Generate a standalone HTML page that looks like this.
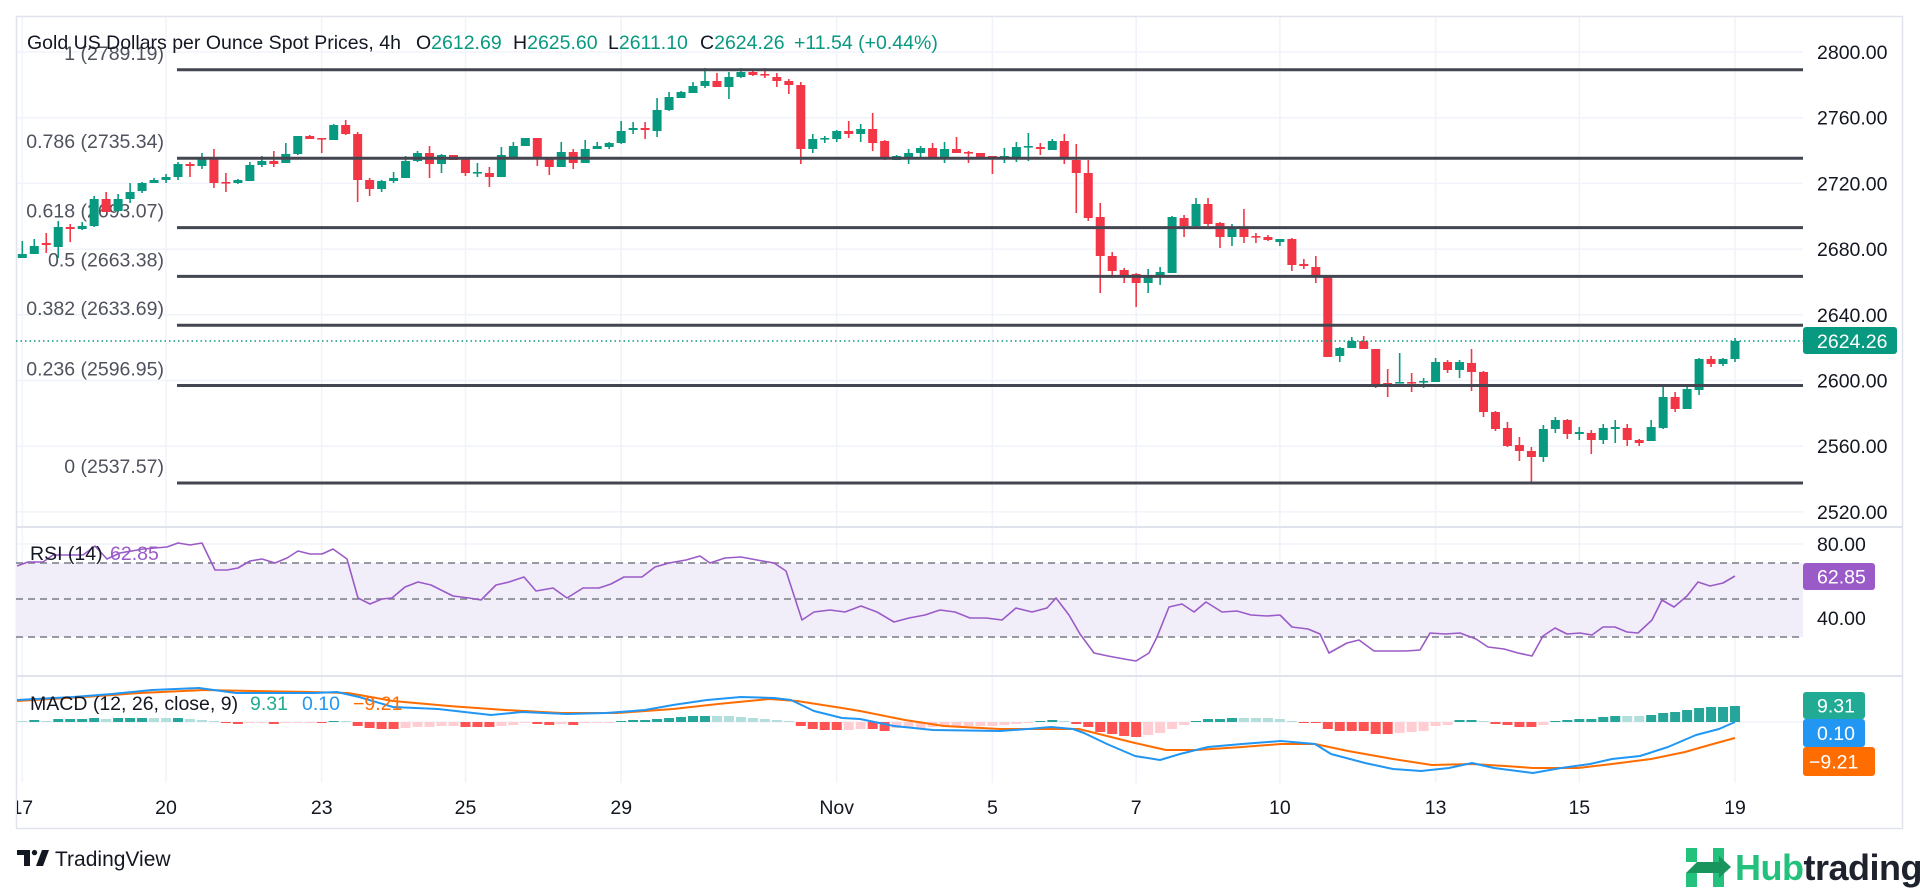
<!DOCTYPE html>
<html><head><meta charset="utf-8"><style>
html,body{margin:0;padding:0;background:#fff;width:1920px;height:888px;overflow:hidden}
svg text{font-family:"Liberation Sans",Arial,sans-serif}
</style></head><body>
<svg id="s" xmlns="http://www.w3.org/2000/svg" width="1920" height="888" viewBox="0 0 1920 888">
<defs>
<clipPath id="cp"><rect x="16" y="16" width="1787" height="767"/></clipPath>
<clipPath id="ta"><rect x="17" y="783" width="1886" height="46"/></clipPath>
</defs>
<rect x="0" y="0" width="1920" height="888" fill="#fff"/>
<g id="grid" stroke="#f0f3fa" stroke-width="1.5"></g>
<rect x="16.5" y="16.5" width="1886" height="812" fill="none" stroke="#e0e3eb" stroke-width="1.5"/>
<line x1="16" y1="527" x2="1903" y2="527" stroke="#e0e3eb" stroke-width="2"/>
<line x1="16" y1="676" x2="1903" y2="676" stroke="#e0e3eb" stroke-width="2"/>

<!-- fib labels -->
<g font-size="19.5" fill="#50535e" text-anchor="end">
<text x="164" y="60">1 (2789.19)</text>
<text x="164" y="148">0.786 (2735.34)</text>
<text x="164" y="217.6">0.618 (2693.07)</text>
<text x="164" y="266.4">0.5 (2663.38)</text>
<text x="164" y="315.2">0.382 (2633.69)</text>
<text x="164" y="375.5">0.236 (2596.95)</text>
<text x="164" y="473">0 (2537.57)</text>
</g>

<!-- RSI band -->
<rect x="16" y="563" width="1787" height="74" fill="#f2eef9"/>
<g stroke="#787b86" stroke-width="1.5" stroke-dasharray="7 5">
<line x1="16" y1="563" x2="1803" y2="563"/>
<line x1="16" y1="599" x2="1803" y2="599"/>
<line x1="16" y1="637" x2="1803" y2="637"/>
</g>

<g id="candles" clip-path="url(#cp)"></g>
<g id="hist" clip-path="url(#cp)"></g>

<!-- fib lines -->
<g stroke="#434651" stroke-width="3">
<line x1="177" y1="69.8" x2="1803" y2="69.8"/>
<line x1="177" y1="158.2" x2="1803" y2="158.2"/>
<line x1="177" y1="227.6" x2="1803" y2="227.6"/>
<line x1="177" y1="276.4" x2="1803" y2="276.4"/>
<line x1="177" y1="325.2" x2="1803" y2="325.2"/>
<line x1="177" y1="385.5" x2="1803" y2="385.5"/>
<line x1="177" y1="483" x2="1803" y2="483"/>
</g>
<line x1="16" y1="341" x2="1803" y2="341" stroke="#089981" stroke-width="1.5" stroke-dasharray="1.5 3"/>

<!-- RSI line -->
<polyline fill="none" stroke="#9a5bc8" stroke-width="1.6" stroke-linejoin="round" points="17,566 28,562 43,562 53,555 67,555 83,555 95,546 107,559 120,553 143,549 167,547 178,543 190,545 202,543 215,570 227,570 238,568 250,561 262,559 275,563 287,558 298,551 310,554 322,554 333,549 347,559 358,598 370,604 382,599 392,598 405,587 418,582 431,585 453,596 469,598 481,600 496,585 509,582 524,577 536,591 553,588 567,598 583,588 599,588 611,584 624,577 642,577 655,567 669,563 686,560 700,556 710,563 725,558 741,557 757,560 774,563 786,571 802,620 814,612 830,610 845,612 861,606 877,612 894,622 909,618 925,615 940,610 955,612 970,618 986,618 1002,620 1016,608 1032,612 1047,608 1056,598 1069,615 1080,634 1094,653 1108,656 1124,659 1136,661 1149,653 1157,637 1169,607 1182,604 1194,612 1206,602 1222,612 1237,611 1251,615 1267,616 1280,615 1292,627 1308,629 1320,634 1329,653 1347,643 1359,640 1374,651 1390,651 1406,651 1420,650 1430,633 1445,634 1460,633 1476,639 1488,647 1504,649 1518,653 1532,656 1543,636 1555,628 1567,634 1580,633 1592,635 1603,627 1615,627 1627,632 1638,633 1652,620 1662,600 1674,607 1687,596 1698,582 1710,586 1723,583 1735,576"/>

<!-- MACD lines -->
<polyline fill="none" stroke="#ff6d00" stroke-width="2" stroke-linejoin="round" points="17,701 84,697 140,693 205,690 253,691 309,692 348,693 393,701 449,706 505,710 561,713 617,713 673,709 718,704 769,699 797,701 842,708 860,711 905,720 944,726 1000,729 1056,729 1079,729 1107,736 1135,743 1166,750 1197,750 1242,747 1281,744 1315,744 1348,751 1393,759 1432,765 1472,764 1505,766 1533,768 1578,768 1612,764 1651,759 1685,752 1713,744 1735,738"/>
<polyline fill="none" stroke="#2196f3" stroke-width="2" stroke-linejoin="round" points="17,700 73,697 112,694 152,690 199,688 236,693 281,693 314,693 337,692 359,697 393,707 438,709 491,715 522,712 567,714 606,713 645,710 673,705 707,700 741,697 774,698 791,700 814,711 842,718 860,719 894,726 933,730 1000,731 1028,729 1051,727 1073,729 1084,733 1107,744 1135,756 1160,760 1180,754 1208,747 1242,744 1281,741 1315,744 1331,754 1365,763 1393,769 1421,771 1449,768 1472,763 1494,768 1533,773 1561,768 1590,764 1612,759 1640,756 1668,747 1696,735 1719,729 1735,722"/>

<!-- Title -->
<g font-size="19.5">
<text x="27" y="49" fill="#131722">Gold US Dollars per Ounce Spot Prices, 4h</text>
<text x="416" y="49" fill="#131722">O<tspan fill="#089981">2612.69</tspan></text>
<text x="513" y="49" fill="#131722">H<tspan fill="#089981">2625.60</tspan></text>
<text x="608" y="49" fill="#131722">L<tspan fill="#089981">2611.10</tspan></text>
<text x="700" y="49" fill="#131722">C<tspan fill="#089981">2624.26</tspan></text>
<text x="794" y="49" fill="#089981">+11.54 (+0.44%)</text>
</g>

<!-- price axis -->
<g font-size="19.5" fill="#131722">
<text x="1817" y="59">2800.00</text>
<text x="1817" y="124.7">2760.00</text>
<text x="1817" y="190.4">2720.00</text>
<text x="1817" y="256.1">2680.00</text>
<text x="1817" y="321.8">2640.00</text>
<text x="1817" y="387.5">2600.00</text>
<text x="1817" y="453.2">2560.00</text>
<text x="1817" y="518.9">2520.00</text>
<text x="1817" y="551">80.00</text>
<text x="1817" y="625">40.00</text>
</g>
<rect x="1803" y="327" width="94" height="27" rx="3" fill="#089981"/>
<text x="1817" y="348" font-size="19.5" fill="#fff">2624.26</text>
<rect x="1803" y="563" width="72" height="27" rx="3" fill="#9a5bc8"/>
<text x="1817" y="583.5" font-size="19.5" fill="#fff">62.85</text>
<rect x="1803" y="692" width="62" height="27" rx="3" fill="#22ab94"/>
<text x="1817" y="712.5" font-size="19.5" fill="#fff">9.31</text>
<rect x="1803" y="719" width="62" height="28" rx="3" fill="#2196f3"/>
<text x="1817" y="740" font-size="19.5" fill="#fff">0.10</text>
<rect x="1803" y="747" width="72" height="29" rx="3" fill="#ff6d00"/>
<text x="1809" y="768.5" font-size="19.5" fill="#fff">−9.21</text>

<!-- legends -->
<g font-size="19.5">
<text x="30" y="560" fill="#131722">RSI (14)</text>
<text x="110" y="560" fill="#9a5bc8">62.85</text>
<text x="30" y="710" fill="#131722">MACD (12, 26, close, 9)</text>
<text x="250" y="710" fill="#22ab94">9.31</text>
<text x="302" y="710" fill="#2196f3">0.10</text>
<text x="353" y="710" fill="#ff6d00">−9.21</text>
</g>

<!-- time axis -->
<g font-size="19.5" fill="#131722" text-anchor="middle" clip-path="url(#ta)">
<text x="22.3" y="814">17</text>
<text x="166" y="814">20</text>
<text x="321.7" y="814">23</text>
<text x="465.5" y="814">25</text>
<text x="621.2" y="814">29</text>
<text x="836.7" y="814">Nov</text>
<text x="992.4" y="814">5</text>
<text x="1136.2" y="814">7</text>
<text x="1279.9" y="814">10</text>
<text x="1435.6" y="814">13</text>
<text x="1579.3" y="814">15</text>
<text x="1735" y="814">19</text>
</g>

<!-- TradingView logo -->
<g fill="#131722">
<path d="M17 850h13v16h-6v-11h-7z"/>
<circle cx="34.5" cy="852.6" r="2.7"/>
<path d="M36 866 L42 850 H49 L43 866 Z"/>
<text x="55" y="866" font-size="21">TradingView</text>
</g>

<!-- Hubtrading logo -->
<g>
<rect x="1686" y="848" width="11" height="14" fill="#22c17c"/>
<rect x="1686" y="873" width="11" height="14" fill="#22c17c"/>
<rect x="1713" y="848" width="11" height="39" fill="#22c17c"/>
<polygon points="1686,873 1697,862 1719,862 1719,856 1731,867 1719,878 1719,873" fill="#17955c"/>
<text x="1735" y="880" font-size="36" font-weight="bold" fill="#22c17c" letter-spacing="-0.5">Hub<tspan fill="#1e222d">trading</tspan></text>
</g>
</svg>
<script>
(function(){
var NS="http://www.w3.org/2000/svg";
function el(p,n,a){var e=document.createElementNS(NS,n);for(var k in a)e.setAttribute(k,a[k]);p.appendChild(e);return e;}
var grid=document.getElementById("grid");
var hy=[52,117.7,183.4,249.1,314.8,380.5,446.2,511.9,544,618,722];
hy.forEach(function(y){el(grid,"line",{x1:16,y1:y,x2:1803,y2:y});});
var vx=[22.3,166,321.7,465.5,621.2,836.7,992.4,1136.2,1279.9,1435.6,1579.3,1735];
vx.forEach(function(x){el(grid,"line",{x1:x,y1:17,x2:x,y2:783});});
var X0=22.3,DX=11.977;
var C=[
[254,258,241,258,1],[246,254,239,254,1],[243,245,233,253,0],[227,247,221,258,1],[227,229,224,242,0],[226,229,222,230,1],
[199,226,196,227,1],[199,212,192,212,0],[199,211,194,212,1],[192,199,183,203,1],[183,191,182,193,1],[180,183,178,183,1],
[177,180,174,183,1],[164,177,162,180,1],[164,166,162,177,0],[159,166,153,169,1],[158,183,149,188,0],[182,183,173,192,0],
[180,183,179,184,1],[165,181,162,181,1],[161,165,156,167,1],[161,164,151,167,0],[154,163,143,163,1],[136,154,136,155,1],
[136,139,135,139,0],[138,139,138,153,0],[125,140,124,140,1],[125,134,120,135,0],[134,180,132,202,0],[180,189,178,196,0],
[181,189,180,192,1],[178,181,172,183,1],[161,178,156,178,1],[153,161,151,162,1],[153,164,146,178,0],[155,164,154,173,1],
[155,160,155,160,0],[159,173,158,176,0],[172,173,163,177,1],[173,177,167,187,0],[155,177,147,177,1],[146,157,142,159,1],
[138,146,138,146,1],[138,157,138,166,0],[157,167,157,175,0],[152,167,142,167,1],[152,163,149,169,0],[149,163,140,163,1],
[146,149,142,149,1],[143,147,142,149,1],[131,143,121,144,1],[128,130,122,134,1],[128,130,122,139,0],[110,131,98,137,1],
[97,110,92,111,1],[92,98,91,98,1],[86,93,82,93,1],[81,86,68,88,1],[81,87,73,87,0],[77,87,72,99,1],
[72,77,68,78,1],[72,75,71,76,0],[74,75,68,78,0],[77,81,73,87,0],[81,85,79,94,0],[85,149,82,164,0],
[139,149,134,153,1],[138,139,136,143,1],[131,139,130,142,1],[131,134,121,138,0],[129,134,124,142,1],[129,143,113,151,0],
[141,159,140,160,0],[156,160,155,160,1],[153,157,149,164,1],[148,153,146,157,1],[148,157,143,157,0],[149,157,142,163,1],
[149,153,137,153,0],[152,153,151,163,0],[153,157,153,157,0],[156,157,156,174,0],[156,157,148,163,1],[147,157,142,162,1],
[146,147,133,161,1],[147,149,143,155,0],[141,150,139,150,1],[141,159,134,164,0],[160,173,144,213,0],[173,218,160,221,0],
[217,256,203,293,0],[256,271,252,278,0],[270,276,268,283,0],[274,283,273,307,0],[276,283,269,293,1],[272,277,267,285,1],
[217,273,216,273,1],[218,226,215,237,0],[204,226,198,227,1],[204,224,198,226,0],[223,237,222,248,0],[229,237,224,246,1],
[229,237,209,243,0],[236,237,233,243,0],[237,240,235,241,0],[239,242,239,246,1],[239,265,238,271,0],[264,266,259,269,0],
[267,277,256,283,0],[277,357,277,357,0],[348,356,347,362,1],[341,348,337,348,1],[341,349,336,349,0],[349,384,349,388,0],
[383,384,369,397,0],[382,383,353,383,1],[382,383,373,392,0],[381,382,378,388,1],[362,382,358,382,1],[362,370,360,373,0],
[362,370,360,378,1],[363,372,349,391,0],[372,412,371,417,0],[412,429,411,431,0],[428,446,422,447,0],[445,451,437,461,0],
[451,457,447,483,0],[429,457,425,462,1],[420,429,417,433,1],[420,434,419,439,0],[432,434,427,440,1],[433,440,430,454,0],
[428,440,424,444,1],[427,429,420,443,1],[428,440,424,446,0],[440,443,439,446,0],[427,441,420,441,1],[397,428,385,429,1],
[397,409,392,412,0],[389,409,386,409,1],[359,390,358,395,1],[359,364,356,367,0],[359,364,358,366,1],[341,359,338,362,1]
];
var cg=document.getElementById("candles");
C.forEach(function(c,i){
 var x=X0+DX*i, col=c[4]?"#089981":"#f23645";
 el(cg,"line",{x1:x,y1:c[2],x2:x,y2:c[3],stroke:col,"stroke-width":1.6});
 var h=Math.max(c[1]-c[0],1.6);
 el(cg,"rect",{x:x-4.5,y:c[0],width:9,height:h,fill:col});
});
var H="1g,2G,1g,3G,3G,3G,4G,3g,4G,4G,4G,4g,4g,4G,3g,2g,1g,-1R,-2R,-1r,-1r,-2R,-1r,-1r,-1r,-1R,1G,1g,-4R,-6R,-7R,-7R,-6r,-5r,-5r,-4r,-4r,-5R,-5R,-5R,-4r,-3r,-1r,-2R,-3R,-2r,-3R,-1r,-1r,-1r,1G,2G,2G,3G,4G,5G,6G,6G,6g,6g,5g,4g,3g,2g,1g,-4R,-7R,-8R,-8R,-8r,-7r,-7R,-9R,-6r,-6r,-6r,-5r,-4r,-4r,-4r,-4r,-4r,-3r,-2r,-1r,1G,2G,1g,-2R,-5R,-10R,-12R,-14R,-15R,-13r,-11r,-7r,-3r,1G,3G,3G,4G,4g,4g,4g,3g,1g,-1R,-1R,-7R,-9R,-9R,-9R,-12R,-12R,-11r,-10r,-9r,-4r,-3r,2G,2G,1g,-2R,-3R,-5R,-5R,-3r,1G,2G,3G,3G,5G,6G,6g,6g,7G,9G,10G,12G,14G,15G,15G,16G".split(",");
var cols={G:"#26a69a",g:"#b2dfdb",R:"#ff5252",r:"#ffcdd2"};
var hg=document.getElementById("hist");
H.forEach(function(s,i){
 var v=parseFloat(s), k=s.charAt(s.length-1), x=X0+DX*i;
 var y=v>0?722-v:722, h=Math.max(Math.abs(v),1);
 el(hg,"rect",{x:x-5,y:y,width:10,height:h,fill:cols[k]});
});
})();
</script>
</body></html>
